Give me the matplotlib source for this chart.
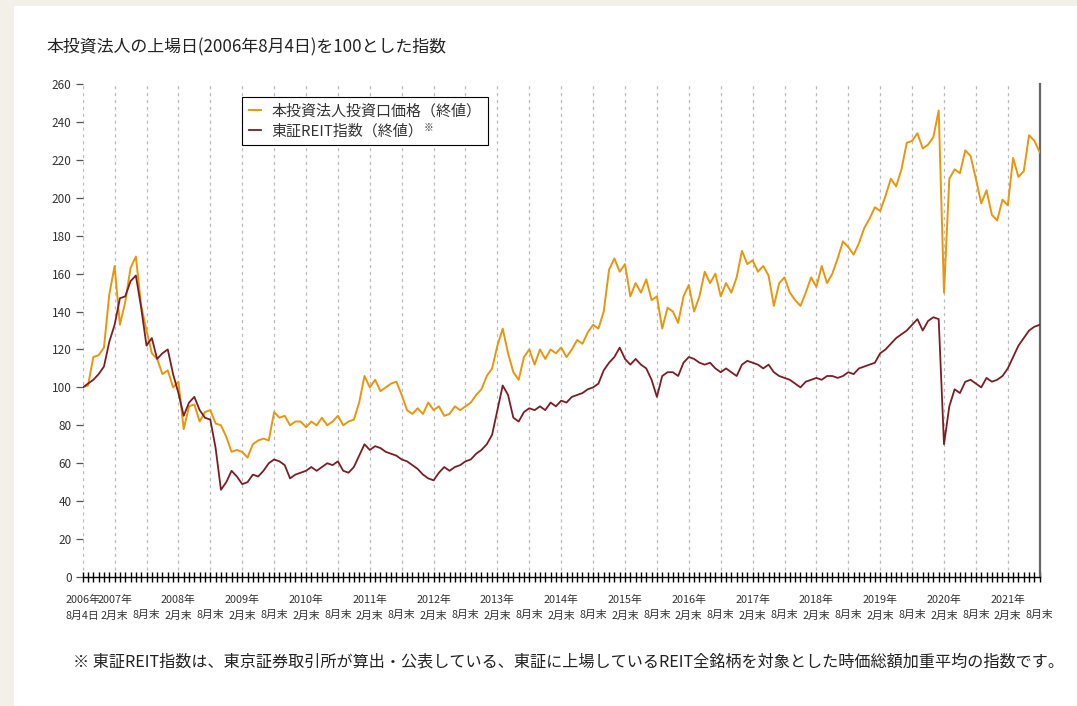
import matplotlib.pyplot as plt
import pandas as pd
from matplotlib.patches import Rectangle

plt.rcParams['font.family'] = ['Noto Sans CJK JP', 'DejaVu Sans']

# month-end closes, 2006-08 (listing day 8/4) .. 2021-08
months = pd.period_range("2006-08", "2021-08", freq="M")

price = [
    100, 101, 116, 117, 121, 149, 164, 133, 145, 163, 169, 143, 130, 118, 115, 107,
    109, 100, 103, 78, 90, 91, 82, 87, 88, 81, 80, 74, 66, 67, 66, 63, 70, 72, 73, 72,
    87, 84, 85, 80, 82, 82,
    79, 82, 80, 84, 80, 82, 85, 80, 82, 83,
    92, 106, 100, 104, 98, 100, 102, 103, 96, 88,
    86, 89, 86, 92, 88, 90, 85, 86, 90, 88,
    90, 92, 96, 99, 106, 110, 122, 131, 118, 108,
    104, 116, 120, 112, 120, 115, 120, 118, 121, 116,
    120, 125, 123, 129, 133, 131, 140, 162, 168, 161,
    165, 148, 155, 150, 157, 146, 148, 131, 142, 140,
    134, 148, 154, 140, 148, 161, 155, 160, 148, 155,
    150, 158, 172, 165, 167, 161, 164, 159, 143, 155,
    158, 150, 146, 143, 150, 158, 153, 164, 155, 160,
    168, 177, 174, 170, 176, 184, 189, 195, 193, 201,
    210, 206, 215, 229, 230, 234, 226, 228, 232, 246,
    150, 210, 215, 213, 225, 222, 210, 197, 204, 191,
    188, 199, 196, 221, 211, 214, 233, 230, 224,
]

reit = [
    100, 102, 104, 107, 111, 124, 133, 147, 148, 156, 159, 142, 122, 126, 115, 118,
    120, 107, 97, 85, 92, 95, 88, 84, 83, 68, 46, 50, 56, 53, 49, 50, 54, 53, 56, 60,
    62, 61, 59, 52, 54, 55,
    56, 58, 56, 58, 60, 59, 61, 56, 55, 58,
    64, 70, 67, 69, 68, 66, 65, 64, 62, 61,
    59, 57, 54, 52, 51, 55, 58, 56, 58, 59,
    61, 62, 65, 67, 70, 75, 88, 101, 96, 84,
    82, 87, 89, 88, 90, 88, 92, 90, 93, 92,
    95, 96, 97, 99, 100, 102, 109, 113, 116, 121,
    115, 112, 115, 112, 110, 104, 95, 106, 108, 108,
    106, 113, 116, 115, 113, 112, 113, 110, 108, 110,
    108, 106, 112, 114, 113, 112, 110, 112, 108, 106,
    105, 104, 102, 100, 103, 104, 105, 104, 106, 106,
    105, 106, 108, 107, 110, 111, 112, 113, 118, 120,
    123, 126, 128, 130, 133, 136, 130, 135, 137, 136,
    70, 90, 99, 97, 103, 104, 102, 100, 105, 103,
    104, 106, 110, 116, 122, 126, 130, 132, 133,
]

price_label = "本投資法人投資口価格（終値）"
reit_label = "東証REIT指数（終値）"
title = "本投資法人の上場日(2006年8月4日)を100とした指数"
note = ("※ 東証REIT指数は、東京証券取引所が算出・公表している、東証に上場している"
        "REIT全銘柄を対象とした時価総額加重平均の指数です。")

ORANGE = "#E8960E"
BROWN = "#7A1E24"
TEXT = "#333333"

W, H = 1077, 706
fig = plt.figure(figsize=(W / 100, H / 100), dpi=100, facecolor="#F3EFE9")
fig.patches.append(Rectangle((14 / W, 0), 1, 1 - 6 / H, transform=fig.transFigure,
                             facecolor="white", edgecolor="none", zorder=-10))

ax = fig.add_axes([82.7 / W, 1 - 577 / H, (1039.7 - 82.7) / W, (577 - 84) / H])
ax.set_facecolor("none")

x = list(range(len(months)))
ax.plot(x, price, color=ORANGE, lw=1.4, label=price_label, zorder=3)
ax.plot(x, reit, color=BROWN, lw=1.3, label=reit_label, zorder=4)

ax.set_xlim(0, len(months) - 1)
ax.set_ylim(0, 260)

# x ticks: every 6 months labelled, every month as a small cross
major = list(range(0, len(months), 6))
labels = []
for k in major:
    p = months[k]
    if k == 0:
        labels.append(f"{p.year}年\n8月4日")
    elif p.month == 2:
        labels.append(f"{p.year}年\n2月末")
    else:
        labels.append("\n8月末")
ax.set_xticks(major)
ax.set_xticklabels(labels, fontsize=7.8, color=TEXT, linespacing=1.75)
ax.set_xticks(x, minor=True)
ax.tick_params(axis="x", which="both", direction="inout", length=7, width=1,
               color="black", pad=9)

ax.set_yticks(range(0, 261, 20))
ax.tick_params(axis="y", direction="out", length=5, width=0.9, color="#555555",
               labelsize=8.5, labelcolor=TEXT, pad=3)

for k in major[:-1]:
    ax.axvline(k, color="#BBBBBB", lw=0.9, ls=(0, (2.5, 3)), zorder=1)

for side in ["left", "top"]:
    ax.spines[side].set_visible(False)
ax.spines["bottom"].set_color("black")
ax.spines["bottom"].set_linewidth(1)
ax.spines["right"].set_color("#666666")
ax.spines["right"].set_linewidth(1.6)

leg = ax.legend(loc="upper left", bbox_to_anchor=(242 / W, 1 - 97 / H),
                bbox_transform=fig.transFigure, borderaxespad=0, fancybox=False,
                edgecolor="black", framealpha=1, fontsize=10.8, handlelength=0.8,
                handletextpad=0.7, borderpad=0.45, labelspacing=0.4)
leg.get_frame().set_linewidth(0.8)
for t in leg.get_texts():
    t.set_color(TEXT)

# the ※ mark sits raised right after the second legend entry
fig.canvas.draw()
bb = leg.get_texts()[1].get_window_extent()
fig.text((bb.x1 + 1) / W, (bb.y1 + 1) / H, "※", fontsize=7, color=TEXT,
         ha="left", va="top")

fig.text(46 / W, 1 - 47 / H, title, fontsize=12.2, color="#222222", ha="left", va="center")
fig.text(73 / W, 1 - 662 / H, note, fontsize=11.6, color="#222222", ha="left", va="center")

fig.savefig("out.png", dpi=100, facecolor=fig.get_facecolor())
